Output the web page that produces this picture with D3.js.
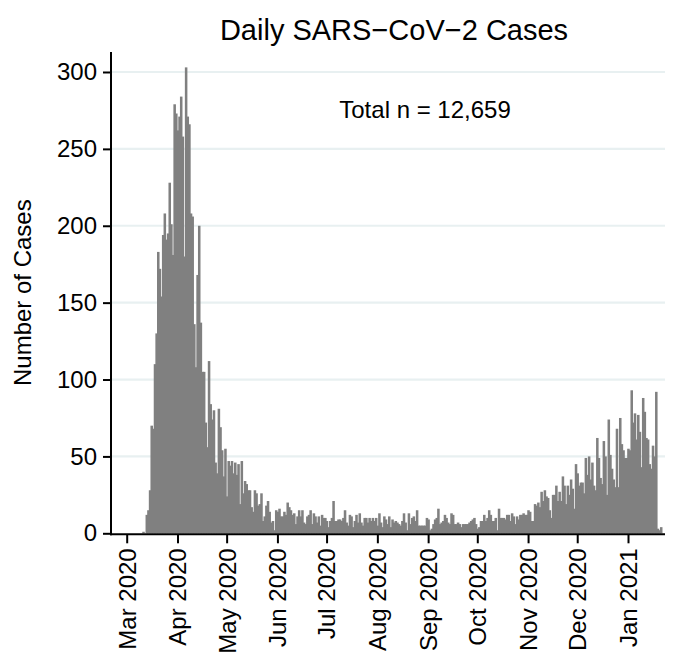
<!DOCTYPE html>
<html>
<head>
<meta charset="utf-8">
<script src="https://cdn.jsdelivr.net/npm/d3@7"></script>
<style>
  html, body { margin: 0; padding: 0; background: #ffffff; }
  svg { display: block; font-family: "Liberation Sans", Arial, Helvetica, sans-serif; }
</style>
</head>
<body>
<div id="chart"></div>
<script>
// ---------------- data ----------------
const titleText = "Daily SARS\u2212CoV\u22122 Cases";
const yAxisTitle = "Number of Cases";
const annotationText = "Total n = 12,659";
const firstDay = "2020-03-01";

const casesMar2020 = [0,0,0,0,0,0,0,0,0,0,1,0,12,15,28,70,68,110,130,183,172,154,194,208,191,195,228,201,181,279,273];
const casesApr2020 = [262,271,284,258,180,303,271,266,208,206,136,108,168,200,137,105,105,72,56,112,84,74,80,46,39,81,69,54,37,55];
const casesMay2020 = [24,47,44,47,39,46,38,45,19,47,26,34,32,28,28,17,14,28,26,18,19,26,8,11,18,21,14,7,8,2,15];
const casesJun2020 = [14,16,11,11,14,12,20,17,15,12,13,6,11,15,11,15,7,6,11,12,15,6,13,11,7,11,5,12,10,10];
const casesJul2020 = [8,4,8,10,21,8,8,9,9,8,10,15,7,5,12,11,4,8,12,7,13,7,5,10,10,7,10,8,10,8,10];
const casesAug2020 = [5,13,7,4,11,9,6,11,4,9,7,8,7,6,5,8,13,7,2,13,6,10,11,8,15,5,5,5,5,5,10];
const casesSep2020 = [9,2,3,6,9,10,16,6,7,8,12,10,7,6,13,12,6,6,7,6,4,6,6,6,6,7,8,9,10,6];
const casesOct2020 = [3,4,8,8,12,8,10,15,12,8,8,10,2,16,10,10,10,9,12,12,8,13,11,6,11,9,12,12,13,12,12];
const casesNov2020 = [15,14,8,8,19,18,20,17,27,21,28,24,23,15,10,25,25,31,21,27,21,37,31,19,31,25,35,29,16,45];
const casesDec2020 = [39,31,33,33,26,49,38,50,35,46,31,28,62,49,36,32,60,50,25,74,51,42,35,30,68,30,75,58,54,49,49];
const casesJan2021 = [55,54,93,72,78,61,77,66,43,88,79,62,61,45,42,57,50,92,3,2,4];

const xTickLabels = ["Mar 2020","Apr 2020","May 2020","Jun 2020","Jul 2020","Aug 2020",
                     "Sep 2020","Oct 2020","Nov 2020","Dec 2020","Jan 2021"];
const yTickValues = [0, 50, 100, 150, 200, 250, 300];

// ---------------- build table ----------------
const dailyCases = [casesMar2020, casesApr2020, casesMay2020, casesJun2020, casesJul2020,
  casesAug2020, casesSep2020, casesOct2020, casesNov2020, casesDec2020, casesJan2021].flat();
const start = d3.utcParse("%Y-%m-%d")(firstDay);
const table = dailyCases.map((v, i) => ({ date: d3.utcDay.offset(start, i), value: v }));
const parseTick = d3.utcParse("%b %Y");
const tickDates = xTickLabels.map(parseTick);

// ---------------- layout ----------------
const W = 675, H = 654;
const plotLeft = 111, plotRight = 665, plotTop = 52, plotBottom = 533.3;

const svg = d3.select("#chart").append("svg")
  .attr("width", W).attr("height", H).attr("viewBox", `0 0 ${W} ${H}`);

const x = d3.scaleUtc()
  .domain([new Date(Date.UTC(2020, 1, 20, 10)), new Date(Date.UTC(2021, 0, 23, 14))])
  .range([plotLeft, plotRight]);
const y = d3.scaleLinear().domain([0, 313]).range([plotBottom, plotTop]);

// gridlines
svg.append("g").selectAll("line")
  .data(yTickValues.filter(v => v > 0))
  .join("line")
  .attr("x1", plotLeft + 1).attr("x2", plotRight)
  .attr("y1", d => y(d)).attr("y2", d => y(d))
  .attr("stroke", "#E8F0F1").attr("stroke-width", 2.2);

// bars
const halfDay = 12 * 3600 * 1000;
svg.append("g").selectAll("rect")
  .data(table.filter(d => d.value > 0))
  .join("rect")
  .attr("x", d => x(new Date(d.date.getTime() - halfDay)))
  .attr("width", d => x(new Date(d.date.getTime() + halfDay)) - x(new Date(d.date.getTime() - halfDay)) + 0.9)
  .attr("y", d => y(d.value))
  .attr("height", d => y(0) - y(d.value))
  .attr("fill", "#808080");

// y axis
const yAxis = svg.append("g")
  .attr("transform", `translate(${plotLeft},0)`)
  .call(d3.axisLeft(y).tickValues(yTickValues).tickSize(8).tickSizeOuter(0).tickPadding(6));
yAxis.select(".domain").attr("stroke", "#000").attr("stroke-width", 2)
  .attr("d", `M0,${plotTop}V${plotBottom + 2}`);
yAxis.selectAll(".tick line").attr("stroke", "#000").attr("stroke-width", 2);
yAxis.selectAll(".tick text").attr("font-size", 24).attr("fill", "#000")
  .attr("font-family", '"Liberation Sans", Arial, sans-serif');

// x axis
const xAxis = svg.append("g")
  .attr("transform", `translate(0,${plotBottom + 1})`)
  .call(d3.axisBottom(x).tickValues(tickDates).tickFormat((d, i) => xTickLabels[i])
    .tickSize(9).tickSizeOuter(0));
xAxis.select(".domain").attr("stroke", "#000").attr("stroke-width", 2)
  .attr("d", `M${plotLeft - 1},0H${plotRight}`);
xAxis.selectAll(".tick line").attr("stroke", "#000").attr("stroke-width", 2);
xAxis.selectAll(".tick text")
  .attr("font-size", 24).attr("fill", "#000")
  .attr("font-family", '"Liberation Sans", Arial, sans-serif')
  .attr("transform", "rotate(-90)")
  .attr("text-anchor", "end")
  .attr("x", -14).attr("y", 0).attr("dy", "0.35em");

// title
svg.append("text")
  .attr("x", 394).attr("y", 40)
  .attr("text-anchor", "middle")
  .attr("font-size", 29).attr("fill", "#000")
  .text(titleText);

// y axis title
svg.append("text")
  .attr("transform", `translate(31,${(plotTop + plotBottom) / 2}) rotate(-90)`)
  .attr("text-anchor", "middle")
  .attr("font-size", 24).attr("fill", "#000")
  .text(yAxisTitle);

// annotation
svg.append("text")
  .attr("x", 425).attr("y", 118)
  .attr("text-anchor", "middle")
  .attr("font-size", 24).attr("fill", "#000")
  .text(annotationText);
</script>
</body>
</html>
